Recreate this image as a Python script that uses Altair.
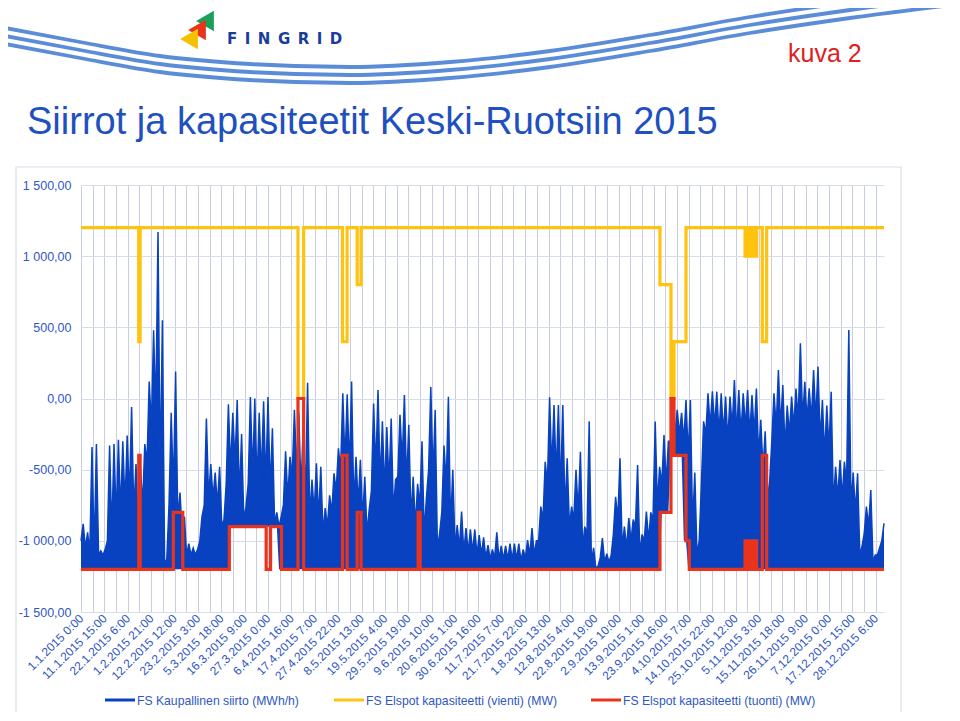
import altair as alt
import pandas as pd

# ---------------- data ----------------
SEG_HOURS = 48  # each envelope reading covers 48 hours

# FS Kaupallinen siirto (MWh/h): spike tops per 48 h segment
blue_high = [
    -880, -940, -340, -320, -1070, -1060, -330, -320, -290, -300,
    -260, -60, -460, -480, -320, 120, 480, 1170, 550, -1130,
    -100, 190, -660, -830, -1020, -1050, -1060, -830, -140, -460,
    -520, -480, -850, -40, -100, -10, -250, -760, 10, 0,
    -100, -20, 10, -210, -800, -830, -370, -410, -80, -100,
    -200, 110, -570, -455, -480, -770, -680, -525, -350, 36,
    30, 120, -410, -430, -550, -780, -35, 60, -160, -200,
    -140, -570, -115, 25, -185, -550, -600, -300, -700, 80,
    -80, -950, -330, 13, -500, -890, -795, -910, -920, -920,
    -960, -975, -1030, -1060, -940, -1035, -1035, -1020, -1020, -1020,
    -1060, -995, -910, -1000, -760, -445, 8, -46, -46, -46,
    -420, -760, -500, -375, -900, -160, -1050, -1180, -980, -1090,
    -1100, -690, -420, -900, -840, -850, -467, -955, -795, -800,
    -162, -480, -256, -300, -10, -80, -100, -10, -10, -520,
    -1000, -160, 36, 50, 48, 36, 13, 13, 130, 60,
    36, 60, 24, 70, -150, -230, -590, 36, 200, 95,
    -50, 13, 70, 388, 118, 71, 200, 224, -10, -50,
    48, -480, -432, -444, 481, -520, -526, -1040, -760, -643,
    -1100, -1050, -877,
]
# solid-fill level between spikes per 48 h segment
blue_base = [
    -1000, -1050, -1080, -1080, -1100, -1100, -1000, -950, -850, -800,
    -750, -700, -800, -900, -750, -450, -200, -100, -550, -1150,
    -750, -650, -850, -950, -1100, -1100, -1100, -1000, -750, -700,
    -700, -750, -900, -600, -500, -450, -700, -850, -600, -550,
    -600, -550, -600, -650, -880, -900, -750, -700, -550, -500,
    -650, -700, -850, -800, -850, -950, -900, -800, -650, -500,
    -450, -500, -750, -750, -850, -950, -650, -500, -600, -650,
    -600, -800, -550, -450, -600, -850, -900, -750, -950, -500,
    -550, -1050, -800, -600, -900, -1050, -1050, -1080, -1080, -1080,
    -1100, -1100, -1120, -1130, -1120, -1130, -1130, -1130, -1130, -1130,
    -1140, -1120, -1100, -1100, -1000, -850, -600, -500, -550, -650,
    -800, -900, -850, -800, -1050, -950, -1150, -1190, -1120, -1150,
    -1150, -950, -850, -1050, -1050, -1000, -900, -1100, -1000, -1000,
    -850, -750, -600, -600, -300, -250, -250, -300, -400, -900,
    -1100, -600, -250, -200, -200, -250, -250, -300, -200, -250,
    -250, -200, -250, -250, -400, -500, -700, -300, -200, -200,
    -350, -250, -200, -150, -150, -150, -150, -150, -300, -400,
    -350, -750, -700, -700, -600, -750, -800, -1100, -950, -900,
    -1150, -1100, -1000,
]
# lowest flow per 48 h segment
blue_low = [
    -1200, -1200, -1200, -1200, -1200, -1200, -1200, -1200, -1200, -1200,
    -1200, -1200, -1200, -1200, -1200, -1200, -1200, -1200, -1200, -1200,
    -1200, -1200, -1200, -1200, -1200, -1200, -1200, -1200, -1200, -1200,
    -1200, -1200, -1200, -1200, -900, -900, -900, -900, -900, -900,
    -900, -900, -900, -900, -900, -1200, -1200, -1200, -1200, -1200,
    -1200, -1200, -1200, -1200, -1200, -1200, -1200, -1200, -1200, -1200,
    -1200, -1200, -1200, -1200, -1200, -1200, -1200, -1200, -1200, -1200,
    -1200, -1200, -1200, -1200, -1200, -1200, -1200, -1200, -1200, -1200,
    -1200, -1200, -1200, -1200, -1200, -1200, -1200, -1200, -1200, -1200,
    -1200, -1200, -1200, -1200, -1200, -1200, -1200, -1200, -1200, -1200,
    -1200, -1200, -1200, -1200, -1200, -1200, -1200, -1200, -1200, -1200,
    -1200, -1200, -1200, -1200, -1200, -1200, -1200, -1200, -1200, -1200,
    -1200, -1200, -1200, -1200, -1200, -1200, -1200, -1200, -1200, -1200,
    -1200, -1200, -800, -800, -400, -400, -400, -1000, -1200, -1200,
    -1200, -1200, -1200, -1200, -1200, -1200, -1200, -1200, -1200, -1200,
    -1200, -1200, -1200, -1200, -1200, -1200, -1200, -1200, -1200, -1200,
    -1200, -1200, -1200, -1200, -1200, -1200, -1200, -1200, -1200, -1200,
    -1200, -1200, -1200, -1200, -1200, -1200, -1200, -1200, -1200, -1200,
    -1200, -1200, -1200,
]

# FS Elspot kapasiteetti (vienti) (MW): change points (hour index, value)
vienti_hours = [0, 630, 645, 2367, 2429, 2853, 2903, 3013, 3055,
                6316, 6436, 6469, 6600,
                7244, 7254, 7262, 7272, 7280, 7290, 7298, 7308, 7316, 7326,
                7334, 7344, 7352, 7371, 7432, 7480, 8760]
vienti_values = [1200, 400, 1200, 0, 1200, 400, 1200, 800, 1200,
                 800, 0, 400, 1200,
                 1000, 1200, 1000, 1200, 1000, 1200, 1000, 1200, 1000, 1200,
                 1000, 1200, 1000, 1200, 400, 1200, 1200]

# FS Elspot kapasiteetti (tuonti) (MW): change points (hour index, value)
tuonti_hours = [0, 630, 645, 1007, 1110, 1618, 2020, 2068, 2187, 2367, 2429,
                2853, 2903, 3013, 3055, 3678, 3700,
                6316, 6436, 6469, 6600, 6636,
                7244, 7254, 7262, 7272, 7280, 7290, 7298, 7308, 7316, 7326,
                7334, 7344, 7352, 7371, 7432, 7480, 8760]
tuonti_values = [-1200, -400, -1200, -800, -1200, -900, -1200, -900, -1200, 0, -1200,
                 -400, -1200, -800, -1200, -800, -1200,
                 -800, 0, -400, -1000, -1200,
                 -1000, -1200, -1000, -1200, -1000, -1200, -1000, -1200, -1000, -1200,
                 -1000, -1200, -1000, -1200, -400, -1200, -1200]

x_label_step = 255
x_tick_labels = [
    "1.1.2015 0:00", "11.1.2015 15:00", "22.1.2015 6:00", "1.2.2015 21:00",
    "12.2.2015 12:00", "23.2.2015 3:00", "5.3.2015 18:00", "16.3.2015 9:00",
    "27.3.2015 0:00", "6.4.2015 16:00", "17.4.2015 7:00", "27.4.2015 22:00",
    "8.5.2015 13:00", "19.5.2015 4:00", "29.5.2015 19:00", "9.6.2015 10:00",
    "20.6.2015 1:00", "30.6.2015 16:00", "11.7.2015 7:00", "21.7.2015 22:00",
    "1.8.2015 13:00", "12.8.2015 4:00", "22.8.2015 19:00", "2.9.2015 10:00",
    "13.9.2015 1:00", "23.9.2015 16:00", "4.10.2015 7:00", "14.10.2015 22:00",
    "25.10.2015 12:00", "5.11.2015 3:00", "15.11.2015 18:00", "26.11.2015 9:00",
    "7.12.2015 0:00", "17.12.2015 15:00", "28.12.2015 6:00",
]
y_tick_values = [-1500, -1000, -500, 0, 500, 1000, 1500]
y_tick_labels = ["-1 500,00", "-1 000,00", "-500,00", "0,00", "500,00", "1 000,00", "1 500,00"]

series_names = [
    "FS Kaupallinen siirto (MWh/h)",
    "FS Elspot kapasiteetti (vienti) (MW)",
    "FS Elspot kapasiteetti (tuonti) (MW)",
]
series_colors = ["#0842c0", "#ffc20e", "#e8341c"]

# legend placement (pixels relative to the plot area's top-left corner)
legend_x = [24, 253, 510]
legend_y = 515
legend_sample_len = 30

# decorative header swooshes (page pixel coordinates)
swoosh_x = [0, 80, 160, 250, 350, 450, 550, 650, 750, 850, 960]
swoosh_top_y = [27, 42, 56, 64, 67, 62, 51, 35, 17, 2, -12]
swoosh_mid_y = [35, 50, 64, 72, 75, 70, 59, 43, 25, 10, -4]
swoosh_bot_y = [43, 58, 72, 80, 83, 78, 67, 51, 33, 18, 4]

# ---------------- tables ----------------
rows = []
for k, (hi, base, lo) in enumerate(zip(blue_high, blue_base, blue_low)):
    rows.append({"hour": k * SEG_HOURS, "value": base, "low": lo})
    rows.append({"hour": k * SEG_HOURS + SEG_HOURS // 2, "value": hi, "low": lo})
blue_df = pd.DataFrame(rows)
blue_df["series"] = series_names[0]
vienti_df = pd.DataFrame({"hour": vienti_hours, "value": vienti_values, "series": series_names[1]})
tuonti_df = pd.DataFrame({"hour": tuonti_hours, "value": tuonti_values, "series": series_names[2]})

sw_rows = []
for name, ys in (("a", swoosh_top_y), ("b", swoosh_mid_y), ("c", swoosh_bot_y)):
    for px, py in zip(swoosh_x, ys):
        sw_rows.append({"px": px, "py": py, "line": name})
swoosh_df = pd.DataFrame(sw_rows)
one = pd.DataFrame({"a": [0]})

# ---------------- encodings ----------------
LABEL_BLUE = "#2f57c4"
FONT = "Liberation Sans"

labels_js = "[" + ",".join("'" + s + "'" for s in x_tick_labels) + "]"
grid_vals = [j * x_label_step / 2 for j in range(2 * len(x_tick_labels) - 1)]
x_enc = alt.X(
    "hour:Q",
    scale=alt.Scale(domain=[0, 8760], nice=False, zero=False),
    axis=alt.Axis(
        values=grid_vals,
        labelExpr=f"datum.value % {x_label_step} === 0 ? {labels_js}[round(datum.value / {x_label_step})] : ''",
        labelAngle=-45, labelAlign="right", labelBaseline="middle",
        labelFontSize=12, labelFont=FONT, labelColor=LABEL_BLUE,
        labelOverlap=False, labelFlush=False, labelPadding=4,
        ticks=False, domain=False, title=None,
        grid=True, gridColor="#c9cddd", gridWidth=1,
    ),
)
ylabels_js = "[" + ",".join("'" + s + "'" for s in y_tick_labels) + "]"
y_enc = alt.Y(
    "value:Q",
    scale=alt.Scale(domain=[-1500, 1500], nice=False, zero=False),
    axis=alt.Axis(
        values=y_tick_values,
        labelExpr=f"{ylabels_js}[round((datum.value + 1500) / 500)]",
        labelFontSize=12.5, labelFont=FONT, labelColor=LABEL_BLUE, labelPadding=10,
        ticks=False, domain=False, title=None,
        grid=True, gridColor="#d6deec", gridWidth=1,
    ),
)
color_enc = alt.Color(
    "series:N",
    scale=alt.Scale(domain=series_names, range=series_colors),
    legend=None,
)

blue_fill = alt.Chart(blue_df).mark_area(color=series_colors[0], opacity=1).encode(
    x=x_enc, y=y_enc, y2="low:Q"
)
blue = alt.Chart(blue_df).mark_line(strokeWidth=1.5).encode(x=x_enc, y=y_enc, color=color_enc)
yellow = alt.Chart(vienti_df).mark_line(strokeWidth=3.2, interpolate="step-after").encode(x=x_enc, y=y_enc, color=color_enc)
red = alt.Chart(tuonti_df).mark_line(strokeWidth=3.2, interpolate="step-after").encode(x=x_enc, y=y_enc, color=color_enc)
main = alt.layer(blue_fill, blue, yellow, red)

# ---------------- legend (drawn below the axis labels) ----------------
legend_layers = []
for name, col, lx in zip(series_names, series_colors, legend_x):
    legend_layers.append(
        alt.Chart(one).mark_rule(color=col, strokeWidth=3).encode(
            x=alt.value(lx), x2=alt.value(lx + legend_sample_len), y=alt.value(legend_y)
        )
    )
    legend_layers.append(
        alt.Chart(one).mark_text(
            text=name, font=FONT, fontSize=12.2, color=LABEL_BLUE, align="left", baseline="middle"
        ).encode(x=alt.value(lx + legend_sample_len + 2), y=alt.value(legend_y + 0.5))
    )

# ---------------- decorations ----------------
swoosh = alt.Chart(swoosh_df).mark_line(interpolate="monotone", strokeWidth=3.8, color="#5b8cd8").encode(
    x=alt.X("px:Q", scale=alt.Scale(domain=[81, 884], nice=False, zero=False), axis=None),
    y=alt.Y("py:Q", scale=alt.Scale(domain=[185, 612], reverse=True, nice=False, zero=False), axis=None),
    detail="line:N",
)
frame = alt.Chart(one).mark_rect(fillOpacity=0, stroke="#d8dee9", strokeWidth=1.2).encode(
    x=alt.value(-65), x2=alt.value(820), y=alt.value(-18), y2=alt.value(533)
)
title = alt.Chart(one).mark_text(
    text="Siirrot ja kapasiteetit Keski-Ruotsiin 2015", font=FONT,
    fontSize=38, color="#1f50c0", align="left", baseline="alphabetic",
).encode(x=alt.value(-54), y=alt.value(-51))
kuva = alt.Chart(one).mark_text(
    text="kuva 2", font=FONT, fontSize=25, color="#e0201c",
    align="left", baseline="alphabetic",
).encode(x=alt.value(707), y=alt.value(-123))
fingrid = alt.Chart(one).mark_text(
    text="F\u2002I\u2002N\u2002G\u2002R\u2002I\u2002D", font="DejaVu Sans", fontWeight="bold",
    fontSize=15, color="#1b3c9c", align="left", baseline="alphabetic",
).encode(x=alt.value(146), y=alt.value(-141))
logo_g = alt.Chart(one).mark_point(shape="triangle-left", filled=True, size=420, color="#1aa05a", opacity=1).encode(
    x=alt.value(124), y=alt.value(-164))
logo_r = alt.Chart(one).mark_point(shape="triangle-left", filled=True, size=420, color="#e8341c", opacity=1).encode(
    x=alt.value(116), y=alt.value(-155))
logo_y = alt.Chart(one).mark_point(shape="triangle-left", filled=True, size=420, color="#f5c000", opacity=1).encode(
    x=alt.value(108), y=alt.value(-146))

deco = alt.layer(swoosh, frame, title, kuva, logo_g, logo_r, logo_y, fingrid, *legend_layers)

chart = (
    alt.layer(deco, main)
    .resolve_scale(x="independent", y="independent")
    .properties(
        width=803, height=427,
        padding={"left": 73, "top": 177, "right": 68, "bottom": 100},
        autosize=alt.AutoSizeParams(type="none"),
        background="white",
    )
    .configure_view(stroke=None)
)

chart.save("out.html", embed_options={"renderer": "svg", "actions": False})
